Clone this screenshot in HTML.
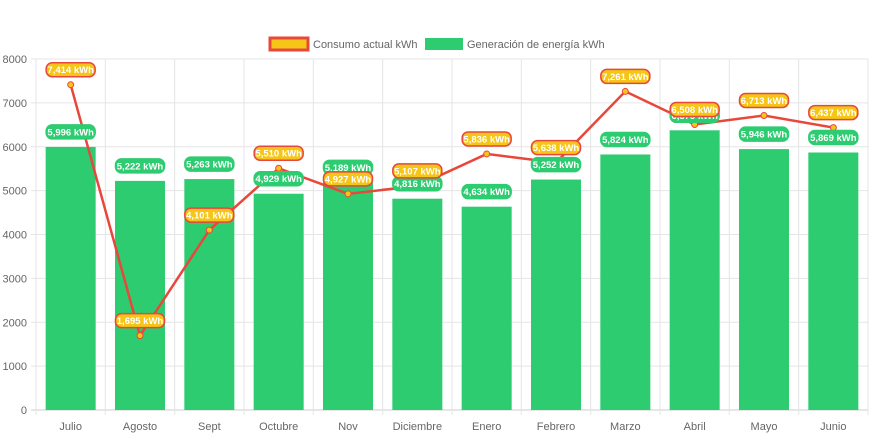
<!DOCTYPE html>
<html><head><meta charset="utf-8"><style>
body{margin:0;background:#fff;font-family:"Liberation Sans",sans-serif;}
svg text{font-family:"Liberation Sans",sans-serif;}
</style></head><body>
<svg id="chart" width="873" height="436">
<g id="legend">
<g>
<rect x="270" y="38" width="38" height="12" fill="#f5c518" stroke="#e8473b" stroke-width="3"/>
<text x="313" y="48" font-size="11" fill="#666">Consumo actual kWh</text></g>
<g>
<rect x="425" y="38" width="38" height="12" fill="#2ecc71"/>
<text x="467" y="48" font-size="11" fill="#666">Generación de energía kWh</text></g>
</g>
<g id="grid"></g><g id="bars"></g><g id="line"></g><g id="labels"></g>
</svg>
<script>
const categories=["Julio","Agosto","Sept","Octubre","Nov","Diciembre","Enero","Febrero","Marzo","Abril","Mayo","Junio"];
const generacion=[5996,5222,5263,4929,5189,4816,4634,5252,5824,6375,5946,5869];
const consumo=[7414,1695,4101,5510,4927,5107,5836,5638,7261,6508,6713,6437];
const yTicks=[0,1000,2000,3000,4000,5000,6000,7000,8000];
const NS="http://www.w3.org/2000/svg";
const L=36,R=868,T=59,B=410,yMax=8000;
const bw=(R-L)/categories.length;
const x=i=>L+bw*(i+0.5);
const y=v=>B-(v/yMax)*(B-T);
function mk(tag,attrs,parent,txt){const e=document.createElementNS(NS,tag);for(const k in attrs)e.setAttribute(k,attrs[k]);if(txt!==undefined)e.textContent=txt;parent.appendChild(e);return e;}
const g=document.getElementById('grid'),gb=document.getElementById('bars'),gl=document.getElementById('line'),glab=document.getElementById('labels');
yTicks.forEach(t=>{
 const ln=mk('line',{x1:L-5,x2:R,y1:y(t),y2:y(t),stroke:t===0?'#ccc':'#e5e5e5'},g);
 
 
 const tx=mk('text',{x:L-9,y:y(t)+4,'text-anchor':'end','font-size':11,fill:'#666'},g,t);
 
 
});
for(let i=0;i<=categories.length;i++){
 const ln=mk('line',{x1:L+bw*i,x2:L+bw*i,y1:T,y2:B+5,stroke:'#e5e5e5'},g);
 
 
}
categories.forEach((c,i)=>{
 const tx=mk('text',{x:x(i),y:430,'text-anchor':'middle','font-size':11,fill:'#666'},g,c);
 
 
});
function label(cx,cy,txt,fill,stroke,name){
 const gg=mk('g',{},glab);
 
 
 const w=txt.length*5+4;
 mk('rect',{x:cx-w/2,y:cy-7,width:w,height:14,rx:6,fill:fill,stroke:stroke,'stroke-width':1.5},gg);
 mk('text',{x:cx,y:cy+3.5,'text-anchor':'middle','font-size':9.5,'font-weight':'bold',fill:'#fff'},gg,txt);
}
const fmt=v=>v.toLocaleString('en-US')+' kWh';
generacion.forEach((v,i)=>{
 const r=mk('rect',{x:x(i)-25,y:y(v),width:50,height:B-y(v),fill:'#2ecc71'},gb);
 
 
 label(x(i),y(v)-15,fmt(v),'#2ecc71','#2ecc71','bar-value-label');
});
const pl=mk('polyline',{points:consumo.map((v,i)=>x(i)+','+y(v)).join(' '),fill:'none',stroke:'#e8473b','stroke-width':2.5},gl);


consumo.forEach((v,i)=>{
 const c=mk('circle',{cx:x(i),cy:y(v),r:3,fill:'#f5c518',stroke:'#e8473b','stroke-width':1},gl);
 
 
 label(x(i),y(v)-15,fmt(v),'#f5c518','#e8473b','line-value-label');
});
</script>
</body></html>
